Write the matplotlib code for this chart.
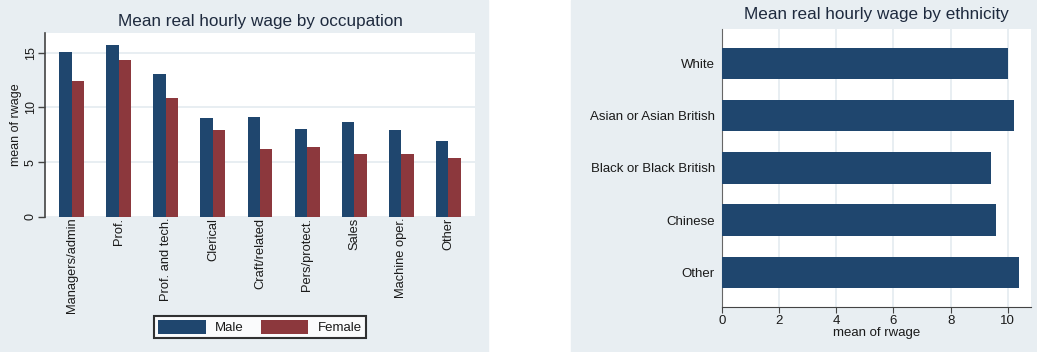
import matplotlib.pyplot as plt
from matplotlib.patches import Rectangle
import numpy as np

plt.rcParams['font.family'] = ['Liberation Sans', 'DejaVu Sans']

# left panel: mean real hourly wage by occupation and sex
occupations = ["Managers/admin", "Prof.", "Prof. and tech.", "Clerical", "Craft/related",
               "Pers/protect.", "Sales", "Machine oper.", "Other"]
male_wage = [15.1, 15.7, 13.1, 9.0, 9.1, 8.05, 8.7, 7.9, 6.95]
female_wage = [12.4, 14.35, 10.85, 7.9, 6.25, 6.35, 5.75, 5.75, 5.35]

# right panel: mean real hourly wage by ethnicity
ethnicities = ["White", "Asian or Asian British", "Black or Black British", "Chinese", "Other"]
ethnic_wage = [10.0, 10.22, 9.42, 9.6, 10.4]

NAVY = "#1F466E"
MAROON = "#8C383D"
BG = "#E8EEF2"
GRID = "#E4EBF0"
TXT = "#1E2A3E"
LBL = "#1A1A1A"

fig = plt.figure(figsize=(10.37, 3.52), dpi=100)
fig.patch.set_facecolor("white")
fig.patches.append(Rectangle((0, 0), 488 / 1037, 1, transform=fig.transFigure, color=BG, zorder=-10))
fig.patches.append(Rectangle((571 / 1037, 0), 1 - 571 / 1037, 1, transform=fig.transFigure, color=BG, zorder=-10))

# ---- occupation bars
ax1 = fig.add_axes([45 / 1037, 1 - 217 / 352, 430 / 1037, 184 / 352])
x = np.arange(len(occupations))
w = 0.265
ax1.bar(x - w / 2, male_wage, w, color=NAVY, label="Male", zorder=3)
ax1.bar(x + w / 2, female_wage, w, color=MAROON, label="Female", zorder=3)
ax1.set_xlim(-0.57, len(occupations) - 0.43)
ax1.set_ylim(0, 16.8)
ax1.set_yticks([0, 5, 10, 15])
ax1.yaxis.grid(True, color=GRID, linewidth=1.2)
ax1.set_axisbelow(True)
ax1.set_xticks(x)
ax1.set_xticklabels(occupations, rotation=90, fontsize=9.3, color=LBL)
ax1.tick_params(axis="x", length=0, pad=0.5)
ax1.tick_params(axis="y", length=5, width=1, color="#444444", labelsize=9, labelcolor=LBL, pad=1)
for lab in ax1.get_yticklabels():
    lab.set_rotation(90)
    lab.set_va("center")
for side in ["top", "right", "bottom"]:
    ax1.spines[side].set_visible(False)
ax1.spines["left"].set_color("#444444")
ax1.spines["left"].set_linewidth(1.2)
ax1.set_ylabel("mean of rwage", fontsize=9, color=LBL, labelpad=2)
ax1.set_title("Mean real hourly wage by occupation", fontsize=12.3, color=TXT, pad=5)
leg = ax1.legend(loc="center", bbox_to_anchor=(260 / 1037, 1 - 327 / 352), bbox_transform=fig.transFigure,
                 ncol=2, fontsize=9.5, frameon=True, fancybox=False, handlelength=3.6, handleheight=1.25,
                 columnspacing=1.3, handletextpad=0.7, borderpad=0.3, labelcolor=LBL)
leg.get_frame().set_edgecolor("black")
leg.get_frame().set_linewidth(1.5)

# ---- ethnicity bars
ax2 = fig.add_axes([721.7 / 1037, 1 - 306.7 / 352, 309 / 1037, 277.7 / 352])
y = np.arange(len(ethnicities))
ax2.barh(y, ethnic_wage, 0.6, color=NAVY, zorder=3)
ax2.set_ylim(len(ethnicities) - 0.34, -0.66)
ax2.set_xlim(0, 10.8)
ax2.set_xticks([0, 2, 4, 6, 8, 10])
ax2.xaxis.grid(True, color=GRID, linewidth=1.2)
ax2.set_axisbelow(True)
ax2.set_yticks(y)
ax2.set_yticklabels(ethnicities, fontsize=9.5, color=LBL)
ax2.tick_params(axis="y", length=0, pad=5)
ax2.tick_params(axis="x", length=4, color="#444444", labelsize=9.5, labelcolor=LBL, pad=2)
for side in ["top", "right"]:
    ax2.spines[side].set_visible(False)
ax2.spines["left"].set_color("#666666")
ax2.spines["bottom"].set_color("#444444")
ax2.set_xlabel("mean of rwage", fontsize=9.5, color=LBL, labelpad=0)
ax2.set_title("Mean real hourly wage by ethnicity", fontsize=12.3, color=TXT, pad=7)

fig.savefig("out.png", dpi=100)
